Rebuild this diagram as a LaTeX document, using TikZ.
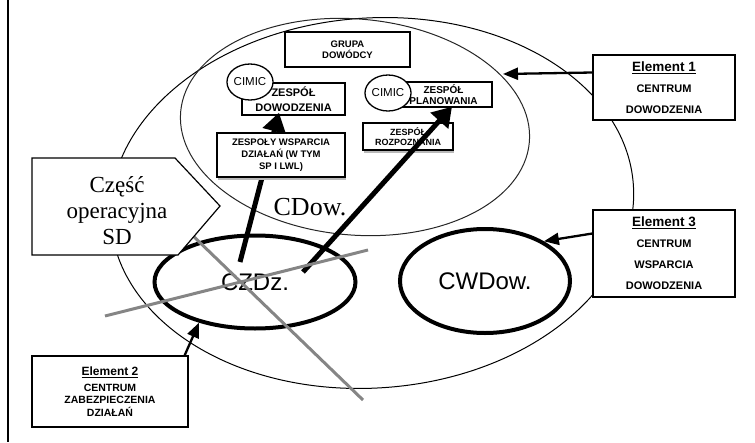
\documentclass[tikz,border=0pt]{standalone}
\usepackage{fontspec}
\setmainfont{Liberation Serif}
\setsansfont{Liberation Sans}
\usetikzlibrary{arrows.meta,shapes.geometric,shadows}
\begin{document}
\begin{tikzpicture}[x=1pt,y=-1pt,
  zone/.style={draw, ellipse, line width=1pt, inner sep=0pt},
  centre/.style={draw, ellipse, line width=4pt, inner sep=0pt,
    font=\sffamily\fontsize{24}{28}\selectfont},
  team/.style={draw, fill=white, line width=1.3pt, inner sep=0pt, align=center,
    font=\sffamily\bfseries\fontsize{9.5}{11}\selectfont},
  shadowed/.style={drop shadow={shadow xshift=1pt, shadow yshift=-3pt,
    fill=gray!55, opacity=1}},
  cimic/.style={draw, fill=white, ellipse, line width=1.3pt, minimum width=40pt,
    minimum height=36pt, inner sep=0pt, font=\sffamily\fontsize{11.5}{13}\selectfont},
  elembox/.style={draw, fill=white, line width=1.3pt, inner sep=0pt, align=center,
    font=\sffamily\bfseries\fontsize{11}{21}\selectfont},
  thickarrow/.style={line width=5pt, -{Triangle[length=19pt,width=23pt]}},
  thinarrow/.style={line width=2.3pt, -{Triangle[length=15pt,width=12pt]}},
  crossline/.style={black!48, line width=3pt},
]
\useasboundingbox (0,0) rectangle (755,442);

% rule along the left edge
\draw[line width=2.5pt] (8,0) -- (8,442);

% the whole system and its command part
\node[zone, minimum width=524pt, minimum height=370pt, rotate=4] (sd) at (372,203) {};
\node[zone, minimum width=350pt, minimum height=216pt, rotate=-5, draw=black!85] (cdowzone) at (355,127) {};

% the two supporting centres
\node[centre, minimum width=201pt, minimum height=93pt] (czdz) at (255,282) {CZDz.};
\node[centre, minimum width=170pt, minimum height=104pt] (cwdow) at (485,281) {CWDow.};

% teams of the command centre
\node[team, minimum width=125pt, minimum height=35pt] (grupa) at (347.5,49.5) {GRUPA\\DOWÓDCY};
\node[team, minimum width=103pt, minimum height=32pt,
  font=\sffamily\bfseries\fontsize{11}{15}\selectfont] (dow) at (293.5,99) {ZESPÓŁ\\DOWODZENIA};
\node[cimic] (cimic1) at (250,82) {CIMIC};
\node[team, minimum width=97pt, minimum height=25pt,
  font=\sffamily\bfseries\fontsize{10}{11}\selectfont] (plan) at (443.5,94.5) {ZESPÓŁ\\PLANOWANIA};
\node[cimic] (cimic2) at (388,93) {CIMIC};

% support line into the command team
\draw[thickarrow] ([shift={(-15pt,20pt)}]czdz.center) -- ([shift={(-14.5pt,3pt)}]dow.south);

\node[team, shadowed, minimum width=90pt, minimum height=27pt,
  font=\sffamily\bfseries\fontsize{9}{10}\selectfont] (rozp) at (408,136.5) {ZESPÓŁ\\ROZPOZNANIA};
\node[team, shadowed, minimum width=128pt, minimum height=44pt,
  font=\sffamily\bfseries\fontsize{9.5}{12}\selectfont] (wsp) at (281,155) {ZESPOŁY WSPARCIA\\DZIAŁAŃ (W TYM\\SP I LWL)};

% support line into the planning team
\draw[thickarrow] ([shift={(48pt,10pt)}]czdz.center) -- ([shift={(8.5pt,1pt)}]plan.south);

% crossing strokes over the CZDz centre
\coordinate (xa1) at (190,233);
\coordinate (xa2) at (363,400);
\coordinate (xb1) at (105,316);
\coordinate (xb2) at (368,250);
\draw[crossline] (xa1) -- (xa2);
\draw[crossline] (xb1) -- (xb2);

% label of the operational part
\coordinate (p1) at (32,158);
\coordinate (p2) at (175,158);
\coordinate (p3) at (220,206);
\coordinate (p4) at (178,255);
\coordinate (p5) at (32,255);
\draw[fill=white, line width=1.2pt] (p1) -- (p2) -- (p3) -- (p4) -- (p5) -- cycle;
\node[align=center, font=\fontsize{23}{26}\selectfont] (oper) at (117,211) {Część\\operacyjna\\SD};

\node[font=\fontsize{26}{30}\selectfont] (cdow) at (310,207) {CDow.};

% element descriptions
\node[elembox, minimum width=142pt, minimum height=65pt] (e1) at (664,87.5)
  {{\fontsize{13.5}{21}\selectfont\underline{Element 1}}\\CENTRUM\\DOWODZENIA};
\node[elembox, minimum width=142pt, minimum height=87pt] (e3) at (664,253.5)
  {{\fontsize{13.5}{21}\selectfont\underline{Element 3}}\\CENTRUM\\WSPARCIA\\DOWODZENIA};
\node[elembox, minimum width=156pt, minimum height=71pt,
  font=\sffamily\bfseries\fontsize{10.5}{12.5}\selectfont] (e2) at (110,391.5)
  {{\fontsize{12}{12.5}\selectfont\underline{Element 2}}\\[3pt]CENTRUM\\ZABEZPIECZENIA\\DZIAŁAŃ};

\coordinate (e1tip) at (503,74);
\draw[thinarrow] ([yshift=15pt]e1.west) -- (e1tip);
\draw[thinarrow] ([yshift=20pt]e3.west) -- (cwdow.34);
\draw[thinarrow] ([xshift=-4pt]e2.north east) -- (czdz.216);
\end{tikzpicture}
\end{document}
